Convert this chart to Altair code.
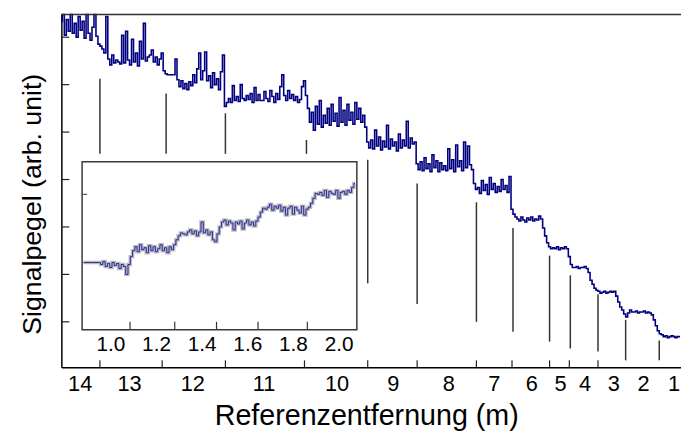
import altair as alt
import pandas as pd

# ---------------- main signal (sample position, signal level in arb. units) ----------------
# each segment: (start position, values sampled every 2 positions)
seg_a = [350, 357, 336, 352, 340, 357, 338, 348, 334, 355, 341, 350, 333, 357, 338, 331, 344, 357, 335, 327]
seg_b = [325, 322, 318, 355, 312, 306, 316, 308, 311]
seg_c = [309, 307, 336, 308, 340, 311, 306, 332, 309, 318, 305, 330, 312, 348, 310, 314]
seg_d = [316, 321, 309, 314, 306, 312, 318]
seg_e = [300, 297, 296, 296, 296, 296]
seg_f = [312, 291]
seg_g = [284, 290, 282, 287, 281, 289, 285]
seg_h = [296, 288, 302, 318, 291, 300, 319, 290]
seg_i = [295, 283, 298, 286, 292, 281, 299, 316]
seg_j = [264, 268]
seg_k = [272, 268, 285, 270, 274, 269, 286, 272, 270, 275]
seg_l = [271, 277, 268, 283, 270, 276, 270, 270, 279, 272, 269, 280, 274, 268, 277, 271, 284]
seg_m = [296, 275, 270, 280, 272, 276, 270, 274, 268, 271, 284, 290, 275]
seg_n = [262, 248, 258, 240, 264, 246, 270, 243, 255, 247, 262, 245, 266, 249, 257,
         244, 273, 248, 260, 245, 266, 250, 258, 246, 268, 251, 262, 248, 255, 243]
seg_o = [228, 222]
seg_p = [230, 221, 240, 224, 233, 220, 229, 223, 245, 221, 231, 224, 228, 219, 236,
         222, 230, 224, 249, 222, 232, 226, 228]
seg_q = [206, 200]
seg_r = [208, 199, 212, 201, 206, 198, 215, 202, 209, 198, 207, 200, 204, 199, 221,
         201, 210, 198, 225, 203, 209, 199, 228, 202, 224, 205, 200]
seg_s = [186, 180]
seg_t = [182, 176, 189, 179, 185, 175, 192, 180, 186, 177, 183, 178, 190, 180, 184, 177, 193]
seg_u = [160, 155, 152]
seg_v = [150, 148, 152, 149, 147, 151, 149, 152, 148, 150, 149, 153, 150]
seg_w = [141, 133, 126, 122, 120]
seg_x = [121, 120, 122, 119, 121, 120, 122, 120]
seg_y = [112, 104, 101]
seg_z = [101, 102, 100, 101, 101, 102, 100]
seg_aa = [96, 88, 84, 80, 78]
seg_ab = [77, 75, 76, 77, 75, 76, 77, 76, 77]
seg_ac = [72, 66, 61, 58, 54]
seg_ad = [51, 55, 58, 56, 56, 57, 55, 56, 56, 57, 55, 56, 55, 53]
seg_ae = [48, 42, 37, 34]
seg_af = [33, 31, 32, 30, 31, 32, 31, 30, 31, 31]

main_segments = [
    (0, seg_a), (40, seg_b), (58, seg_c), (90, seg_d), (104, seg_e), (116, seg_f),
    (120, seg_g), (134, seg_h), (150, seg_i), (166, seg_j), (170, seg_k), (190, seg_l),
    (224, seg_m), (250, seg_n), (310, seg_o), (314, seg_p), (360, seg_q), (364, seg_r),
    (418, seg_s), (422, seg_t), (456, seg_u), (462, seg_v), (488, seg_w), (498, seg_x),
    (514, seg_y), (520, seg_z), (534, seg_aa), (544, seg_ab), (562, seg_ac), (572, seg_ad),
    (600, seg_ae), (608, seg_af),
]
MAIN_STEP = 2

# reference marker lines (position, top level, bottom level)
marker_pos = [39, 106, 166, 248, 310, 360, 420, 457, 494, 515, 543, 571, 605]
marker_top = [292, 277, 257, 230, 210, 186, 167, 141, 113, 93, 74, 48, 27]
marker_bot = [216, 216, 216, 216, 85, 64, 46, 36, 26, 19, 16, 7, 7]

# x axis: tick marks and distance labels
xtick_pos = [39, 102, 166, 246, 310, 360, 420, 456, 494, 514, 543]
dist_labels = ["14", "13", "12", "11", "10", "9", "8", "7", "6", "5", "4", "3", "2", "1"]
dist_label_pos = [19, 69, 133, 205, 279, 336, 392, 438, 476, 505, 530, 559, 589, 620]
ytick_vals = [46, 94, 142, 190, 238, 286, 334]

X_MAX = 627
Y_MAX = 357

# ---------------- inset (distance 0.9 .. 2.1 m) ----------------
ins_1 = [68, 68, 68, 68, 68, 68, 68, 68]
ins_2 = [66, 69, 64, 67, 63, 68, 65, 67, 62, 66, 64, 56, 66]
ins_3 = [74, 80, 84, 79, 86, 81, 83, 78, 85, 80, 84, 79, 82, 86, 80, 83, 78, 84, 81]
ins_4 = [86, 91, 95, 98, 97]
ins_5 = [96, 99, 101, 97, 100, 95, 99, 109, 98, 101, 96, 99]
ins_6 = [91, 89, 97]
ins_7 = [104, 109, 111, 106, 110, 108, 101, 109, 107, 110, 102, 108, 111, 106, 109, 105, 110]
ins_8 = [114, 119, 123, 122]
ins_9 = [124, 127, 121, 125, 123, 126, 120, 124, 116, 123, 125, 117, 124, 121, 118, 125, 116, 122, 124]
ins_10 = [128, 133, 138, 137]
ins_11 = [139, 136, 141, 134, 140, 138, 137, 141, 133, 139, 140, 137, 141, 139]
ins_12 = [144, 148]

inset_segments = [
    (0.88, ins_1), (0.96, ins_2), (1.09, ins_3), (1.28, ins_4), (1.33, ins_5),
    (1.45, ins_6), (1.48, ins_7), (1.65, ins_8), (1.69, ins_9), (1.88, ins_10),
    (1.92, ins_11), (2.06, ins_12),
]
INSET_STEP = 0.01
inset_dom_x = [0.874, 2.078]
inset_dom_y = [0, 170]
inset_range_x = [21, 299]
inset_range_y = [319, 149]
inset_labels = ["1.0", "1.2", "1.4", "1.6", "1.8", "2.0"]
inset_label_pos = [1.0, 1.2, 1.4, 1.6, 1.8, 2.0]
inset_tick_pos = [1.084, 1.28, 1.463, 1.645, 1.861]
inset_ytick = [137]

FONT = "Liberation Sans"

# ---------------- build tables ----------------
main_rows = []
for start, vals in main_segments:
    for i, v in enumerate(vals):
        main_rows.append({"pos": start + MAIN_STEP * i, "sig": v})
main_df = pd.DataFrame(main_rows)

inset_rows = []
for start, vals in inset_segments:
    for i, v in enumerate(vals):
        inset_rows.append({"d": round(start + INSET_STEP * i, 3), "s": v})
inset_df = pd.DataFrame(inset_rows)

xs = alt.Scale(domain=[0, X_MAX], nice=False, zero=False)
ys = alt.Scale(domain=[0, Y_MAX], nice=False, zero=False)

line = alt.Chart(main_df).mark_line(interpolate="step", color="#000080", strokeWidth=1.6).encode(
    x=alt.X("pos:Q", scale=xs,
            axis=alt.Axis(labels=False, ticks=False, grid=False, domainColor="black", domainWidth=1.5,
                          title="Referenzentfernung (m)", titleFont=FONT, titleFontSize=29,
                          titleFontWeight="normal", titleColor="black", titleX=308.5, titleY=58,
                          titleBaseline="alphabetic", titleAlign="center")),
    y=alt.Y("sig:Q", scale=ys,
            axis=alt.Axis(labels=False, ticks=False, grid=False, domainColor="black", domainWidth=1.5,
                          title="Signalpegel (arb. unit)", titleFont=FONT, titleFontSize=27,
                          titleFontWeight="normal", titleColor="black", titleAngle=-90, titleX=-21,
                          titleY=191.5, titleBaseline="alphabetic", titleAlign="center")),
)

markers = alt.Chart(pd.DataFrame({"pos": marker_pos, "sig": marker_top, "sig2": marker_bot})).mark_rule(
    color="#333333", strokeWidth=1.5).encode(x="pos:Q", y="sig:Q", y2="sig2:Q")

xticks = alt.Chart(pd.DataFrame({"pos": xtick_pos, "sig": [0] * len(xtick_pos), "sig2": [7] * len(xtick_pos)})
                   ).mark_rule(color="#222222", strokeWidth=1.2).encode(x="pos:Q", y="sig:Q", y2="sig2:Q")

yticks = alt.Chart(pd.DataFrame({"sig": ytick_vals, "pos": [0] * len(ytick_vals), "pos2": [8] * len(ytick_vals)})
                   ).mark_rule(color="#222222", strokeWidth=1.2).encode(x="pos:Q", x2="pos2:Q", y="sig:Q")

top_border = alt.Chart(pd.DataFrame({"pos": [0], "pos2": [X_MAX], "sig": [Y_MAX]})).mark_rule(
    color="#333333", strokeWidth=1.5).encode(x="pos:Q", x2="pos2:Q", y="sig:Q")

xlabels = alt.Chart(pd.DataFrame({"pos": dist_label_pos, "lab": dist_labels})).mark_text(
    font=FONT, fontSize=22, color="black", baseline="alphabetic", align="center").encode(
    x="pos:Q", y=alt.value(381), text="lab:N")

main = alt.layer(line, markers, xticks, yticks, top_border, xlabels)

ixs = alt.Scale(domain=inset_dom_x, range=inset_range_x, nice=False, zero=False)
iys = alt.Scale(domain=inset_dom_y, range=inset_range_y, nice=False, zero=False)

box = alt.Chart(pd.DataFrame({"d": [inset_dom_x[0]], "d2": [inset_dom_x[1]],
                              "s": [inset_dom_y[0]], "s2": [inset_dom_y[1]]})).mark_rect(
    fill="white", stroke="#3a3a3a", strokeWidth=1.5).encode(
    x=alt.X("d:Q", scale=ixs, axis=None), x2="d2:Q",
    y=alt.Y("s:Q", scale=iys, axis=None), y2="s2:Q")

ins_halo = alt.Chart(inset_df).mark_line(interpolate="step", color="#b9b9c2", strokeWidth=3.5).encode(
    x=alt.X("d:Q", scale=ixs, axis=None), y=alt.Y("s:Q", scale=iys, axis=None))
ins_line = alt.Chart(inset_df).mark_line(interpolate="step", color="#2b2b96", strokeWidth=1).encode(
    x=alt.X("d:Q", scale=ixs, axis=None), y=alt.Y("s:Q", scale=iys, axis=None))

ins_xticks = alt.Chart(pd.DataFrame({"d": inset_tick_pos, "s": [0] * len(inset_tick_pos),
                                     "s2": [8] * len(inset_tick_pos)})).mark_rule(
    color="#333333", strokeWidth=1.2).encode(
    x=alt.X("d:Q", scale=ixs, axis=None), y=alt.Y("s:Q", scale=iys, axis=None), y2="s2:Q")

ins_yticks = alt.Chart(pd.DataFrame({"s": inset_ytick, "d": [inset_dom_x[0]], "d2": [0.896]})).mark_rule(
    color="#555555", strokeWidth=1.2).encode(
    x=alt.X("d:Q", scale=ixs, axis=None), x2="d2:Q", y=alt.Y("s:Q", scale=iys, axis=None))

ins_labels = alt.Chart(pd.DataFrame({"d": inset_label_pos, "lab": inset_labels})).mark_text(
    font=FONT, fontSize=21, color="black", baseline="alphabetic", align="center").encode(
    x=alt.X("d:Q", scale=ixs, axis=None), y=alt.value(341), text="lab:N")

inset = alt.layer(box, ins_halo, ins_line, ins_xticks, ins_yticks, ins_labels)

chart = alt.layer(main, inset).resolve_scale(x="independent", y="independent").properties(
    width=X_MAX, height=Y_MAX,
    padding={"left": 54, "top": 4, "right": 0, "bottom": 70},
    autosize=alt.AutoSizeParams(type="none"),
    background="white",
).configure_view(strokeWidth=0)

chart.save("out.html", embed_options={"renderer": "svg", "actions": False})
